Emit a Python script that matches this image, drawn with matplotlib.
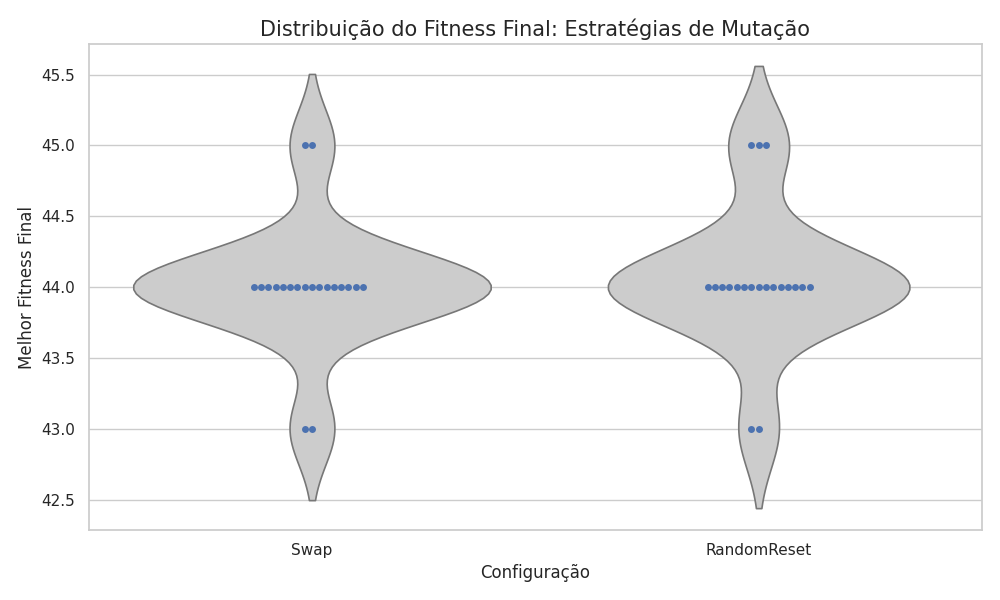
import matplotlib
matplotlib.use('Agg')
import matplotlib.pyplot as plt
import seaborn as sns
import pandas as pd

configs = ['Swap', 'RandomReset']
swap_fitness = [45] * 2 + [44] * 16 + [43] * 2
random_reset_fitness = [45] * 3 + [44] * 15 + [43] * 2

df = pd.DataFrame({
    'Configuração': ['Swap'] * len(swap_fitness) + ['RandomReset'] * len(random_reset_fitness),
    'Melhor Fitness Final': swap_fitness + random_reset_fitness,
})

sns.set_theme(style='whitegrid')
fig, ax = plt.subplots(figsize=(10, 6), dpi=100)
sns.violinplot(data=df, x='Configuração', y='Melhor Fitness Final', order=configs,
               color='#cccccc', inner=None, linewidth=1.2, ax=ax)
for coll in ax.collections:
    coll.set_edgecolor('#777777')
sns.swarmplot(data=df, x='Configuração', y='Melhor Fitness Final', order=configs,
              color='#4c72b0', size=5, ax=ax)
ax.set_title('Distribuição do Fitness Final: Estratégias de Mutação', fontsize=15)
plt.tight_layout()
plt.savefig('out.png')
